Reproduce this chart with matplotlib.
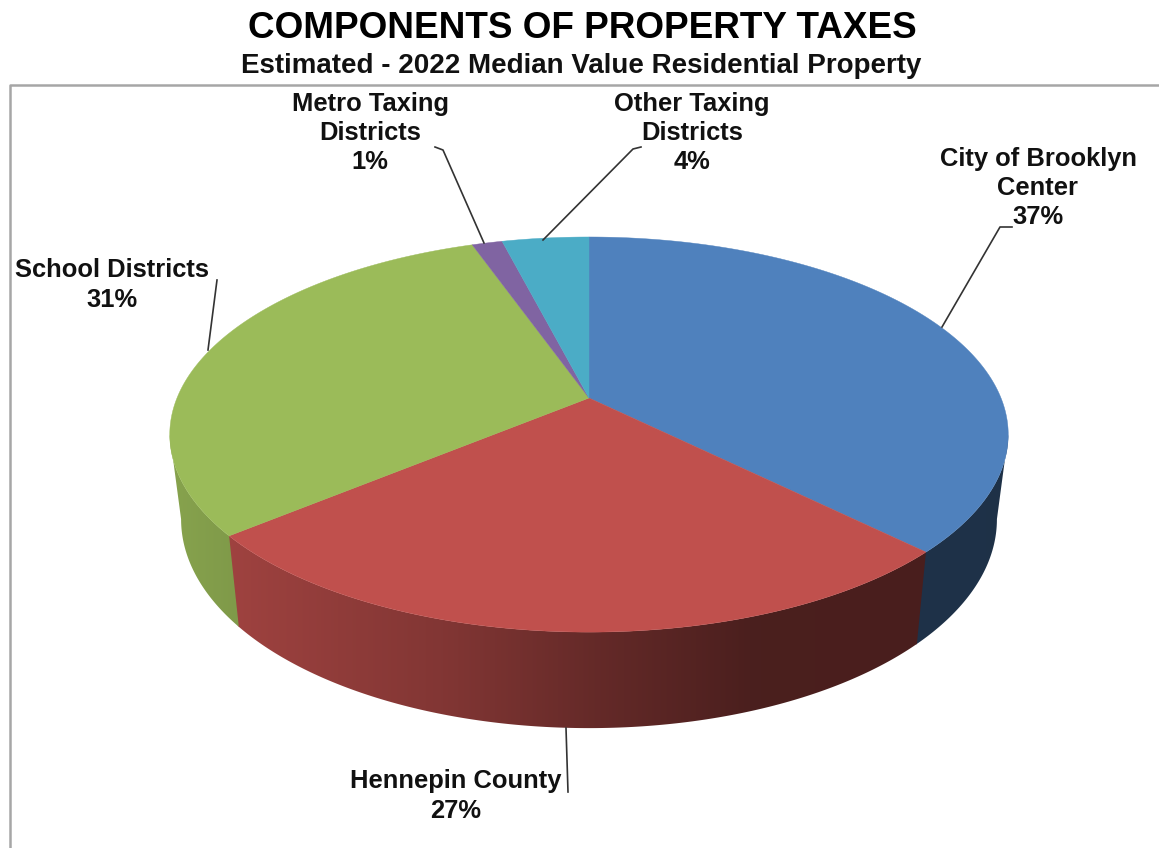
import numpy as np
import matplotlib
matplotlib.use('Agg')
import matplotlib.pyplot as plt
from matplotlib.patches import Polygon

# Estimated shares, read from the slice boundaries (labels round them)
names = ['City of Brooklyn\nCenter', 'Hennepin County', 'School Districts',
         'Metro Taxing\nDistricts', 'Other Taxing\nDistricts']
shares = [37.4, 26.6, 30.6, 1.4, 4.0]
colors = ['#4F81BD', '#C0504D', '#9BBB59', '#8064A2', '#4BACC6']

title = 'COMPONENTS OF PROPERTY TAXES'
subtitle = 'Estimated - 2022 Median Value Residential Property'

# layout of the labels and leader lines, in pixels
label_pos = [(1038, 188), (456, 796), (112, 285), (370, 133), (692, 133)]
leaders = [
    [(942, 327), (1000, 227), (1012, 227)],
    [(566, 728), (568, 792)],
    [(208, 350), (217, 280)],
    [(484, 243), (443, 150), (435, 147)],
    [(543, 240), (633, 149), (641, 147)],
]

# perspective of the pie, pixels
cx, cy = 589, 398
ax_u, ax_v, persp = 412, 190.8, -0.185


def top_rim(a):
    u, v = np.sin(a), -np.cos(a)
    w = 1 + persp * v
    return cx + ax_u * u / w, cy + ax_v * v / w


def bottom_rim(a):
    x, y = top_rim(a)
    v = -np.cos(a)
    return cx + (x - cx) * 0.973, y + 82 + 14 * v


def shade(x):
    return np.interp(x, [170, 240, 450, 600, 750, 1010],
                     [0.87, 0.82, 0.67, 0.52, 0.39, 0.38])


fig = plt.figure(figsize=(11.59, 8.48), dpi=100)
ax = fig.add_axes([0, 0, 1, 1])
plt.rcParams['font.family'] = ['Liberation Sans', 'DejaVu Sans']

# frame of the chart area
ax.plot([10, 10, 1159], [848, 85, 85], color='#a6a6a6', lw=1.8, zorder=1)

edges = np.cumsum([0] + shares) / sum(shares) * 2 * np.pi

# side wall: a horizontal gradient clipped to the wall of each slice
# the wall is visible between the two widest points of the rim
wall_start = np.arccos(persp)
wall_end = 2 * np.pi - wall_start
grad_x = np.arange(160, 1020)
for i in range(len(shares)):
    a0 = max(edges[i], wall_start)
    a1 = min(edges[i + 1], wall_end)
    if a1 <= a0:
        continue
    # small overlap with the next slice hides the seam between walls
    if a1 < wall_end:
        a1 += 0.004
    t = np.linspace(a0, a1, 300)
    xt, yt = top_rim(t)
    xb, yb = bottom_rim(t)
    pts = list(zip(xt, yt)) + list(zip(xb[::-1], yb[::-1]))
    wall = Polygon(pts, facecolor='none', edgecolor='none', transform=ax.transData)
    ax.add_patch(wall)
    base = np.array(matplotlib.colors.to_rgb(colors[i]))
    grad = (shade(grad_x)[:, None] * base)[None, :, :]
    im = ax.imshow(grad, extent=(160, 1020, 760, 400), aspect='auto', zorder=2,
                   interpolation='bilinear')
    im.set_clip_path(wall)

# top face
for i in range(len(shares)):
    t = np.linspace(edges[i], edges[i + 1], 200)
    x, y = top_rim(t)
    pts = [(cx, cy)] + list(zip(x, y))
    ax.add_patch(Polygon(pts, facecolor=colors[i], edgecolor=colors[i],
                         lw=0.3, zorder=3))

# leader lines and labels
for i in range(len(shares)):
    xs, ys = zip(*leaders[i])
    ax.plot(xs, ys, color='#333333', lw=1.2, zorder=4)
    pct = 100 * shares[i] / sum(shares)
    ax.text(label_pos[i][0], label_pos[i][1], f'{names[i]}\n{pct:.0f}%',
            ha='center', va='center', fontsize=18.4, fontweight='bold',
            color='#111111', linespacing=1.27, zorder=5)

ax.text(582, 28, title, ha='center', va='center', fontsize=26.6,
        fontweight='bold', color='black')
ax.text(581, 66, subtitle, ha='center', va='center', fontsize=20,
        fontweight='bold', color='#111111')

ax.set_xlim(0, 1159)
ax.set_ylim(848, 0)
ax.axis('off')

fig.savefig('out.png', dpi=100)
